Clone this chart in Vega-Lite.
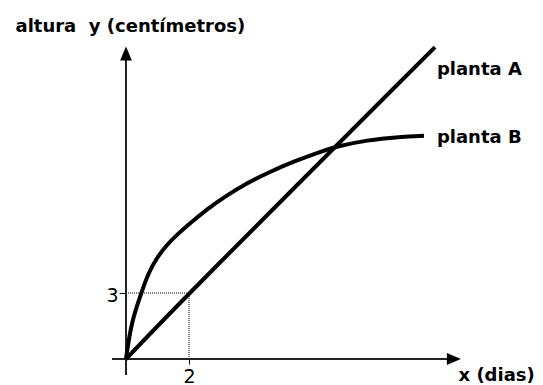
{
  "$schema": "https://vega.github.io/schema/vega-lite/v6.json",
  "width": 543,
  "height": 385,
  "autosize": "none",
  "padding": 0,
  "background": "white",
  "config": {"view": {"stroke": null}},
  "datasets": {
    "axes": [
      {"x": -0.444, "y": 0, "x2": 10.45, "y2": 0},
      {"x": 0, "y": -0.727, "x2": 0, "y2": 14.0}
    ],
    "guides": [
      {"x": 0, "y": 3, "x2": 2, "y2": 3},
      {"x": 2, "y": 0, "x2": 2, "y2": 3}
    ],
    "curves": [
      {"planta": "A", "x": 0, "y": 0},
      {"planta": "A", "x": 2, "y": 3},
      {"planta": "A", "x": 9.81, "y": 14.18},
      {"planta": "B", "x": 0, "y": 0},
      {"planta": "B", "x": 0.054, "y": 0.56},
      {"planta": "B", "x": 0.18, "y": 1.62},
      {"planta": "B", "x": 0.34, "y": 2.38},
      {"planta": "B", "x": 0.5, "y": 3.06},
      {"planta": "B", "x": 0.71, "y": 3.9},
      {"planta": "B", "x": 0.97, "y": 4.58},
      {"planta": "B", "x": 1.29, "y": 5.18},
      {"planta": "B", "x": 1.66, "y": 5.71},
      {"planta": "B", "x": 2.09, "y": 6.24},
      {"planta": "B", "x": 2.61, "y": 6.85},
      {"planta": "B", "x": 3.14, "y": 7.38},
      {"planta": "B", "x": 3.83, "y": 7.99},
      {"planta": "B", "x": 4.57, "y": 8.51},
      {"planta": "B", "x": 5.31, "y": 8.97},
      {"planta": "B", "x": 6.16, "y": 9.42},
      {"planta": "B", "x": 6.69, "y": 9.66},
      {"planta": "B", "x": 7.64, "y": 9.95},
      {"planta": "B", "x": 8.7, "y": 10.1},
      {"planta": "B", "x": 9.46, "y": 10.15}
    ],
    "arrows": [
      {"dir": "right", "x": 10.63, "y": 0},
      {"dir": "up", "x": 0, "y": 14.2}
    ],
    "labels": [
      {"label": "planta A", "x": 9.87, "y": 12.91},
      {"label": "planta B", "x": 9.87, "y": 9.8}
    ]
  },
  "encoding": {
    "x": {
      "field": "x",
      "type": "quantitative",
      "scale": {"domain": [-4, 13.2381], "nice": false, "zero": false},
      "axis": {
        "orient": "bottom",
        "offset": -26,
        "values": [2],
        "domain": false,
        "grid": false,
        "tickSize": 5,
        "tickColor": "black",
        "tickWidth": 1,
        "labelPadding": 3,
        "labelFont": "DejaVu Sans",
        "labelFontSize": 19,
        "labelColor": "black",
        "title": "x (dias)",
        "titleFont": "DejaVu Sans",
        "titleFontWeight": "bold",
        "titleFontSize": 18,
        "titleColor": "black",
        "titleAngle": 0,
        "titleAlign": "left",
        "titleBaseline": "alphabetic",
        "titleX": 458,
        "titleY": 21
      }
    },
    "y": {
      "field": "y",
      "type": "quantitative",
      "scale": {"domain": [-1.1818, 16.3182], "nice": false, "zero": false},
      "axis": {
        "orient": "left",
        "offset": -126,
        "values": [3],
        "domain": false,
        "grid": false,
        "tickSize": 7,
        "tickColor": "black",
        "tickWidth": 1,
        "labelPadding": 1,
        "labelOffset": 2,
        "labelFont": "DejaVu Sans",
        "labelFontSize": 19,
        "labelColor": "black",
        "title": "altura\u00a0 y (centímetros)",
        "titleFont": "DejaVu Sans",
        "titleFontWeight": "bold",
        "titleFontSize": 18,
        "titleColor": "black",
        "titleAngle": 0,
        "titleAlign": "left",
        "titleBaseline": "alphabetic",
        "titleX": -111,
        "titleY": 31.7
      }
    }
  },
  "layer": [
    {
      "data": {"name": "guides"},
      "mark": {"type": "rule", "color": "black", "strokeWidth": 1, "strokeDash": [1, 1]},
      "encoding": {"x2": {"field": "x2"}, "y2": {"field": "y2"}}
    },
    {
      "data": {"name": "axes"},
      "mark": {"type": "rule", "color": "#222222", "strokeWidth": 2},
      "encoding": {"x2": {"field": "x2"}, "y2": {"field": "y2"}}
    },
    {
      "data": {"name": "arrows"},
      "mark": {"type": "point", "filled": true, "color": "black", "opacity": 1, "size": 784},
      "encoding": {
        "shape": {
          "field": "dir",
          "type": "nominal",
          "scale": {"domain": ["right", "up"], "range": ["M0,0L-1,-0.42L-1,0.42Z", "M0,0L-0.42,1L0.42,1Z"]},
          "legend": null
        }
      }
    },
    {
      "data": {"name": "curves"},
      "mark": {"type": "line", "color": "black", "strokeWidth": 4, "interpolate": "basis", "strokeCap": "butt"},
      "encoding": {"detail": {"field": "planta"}}
    },
    {
      "data": {"name": "labels"},
      "mark": {"type": "text", "align": "left", "baseline": "alphabetic", "font": "DejaVu Sans", "fontWeight": "bold", "fontSize": 18, "color": "black"},
      "encoding": {"text": {"field": "label"}}
    }
  ]
}
